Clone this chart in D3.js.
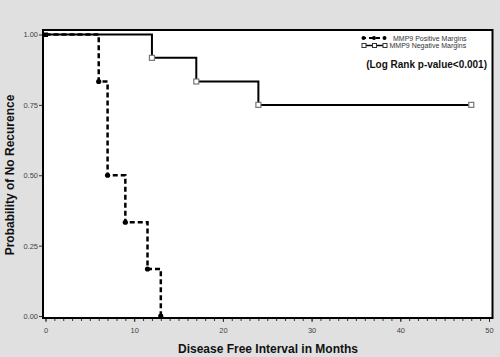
<!DOCTYPE html>
<html><head><meta charset="utf-8">
<script src="https://cdn.jsdelivr.net/npm/d3@7"></script>
<style>
html,body{margin:0;padding:0;background:#e0e0e0;}
svg{display:block;font-family:"Liberation Sans",Arial,sans-serif;}
</style></head>
<body>
<svg id="c" width="500" height="357"></svg>
<script>
const posTimes = [0, 6, 7, 9, 11.5, 13];
const posSurv  = [1, 0.833, 0.5, 0.333, 0.167, 0];
const negTimes = [0, 12, 17, 24, 48];
const negSurv  = [1, 0.917, 0.833, 0.75, 0.75];
const xTicks = [0, 10, 20, 30, 40, 50];
const yTicks = [0, 0.25, 0.5, 0.75, 1];
const legendLabels = ["MMP9 Positive Margins", "MMP9 Negative Margins"];
const pText = "(Log Rank p-value<0.001)";
const xTitle = "Disease Free Interval in Months";
const yTitle = "Probability of No Recurence";

const svg = d3.select("#c");
const x = d3.scaleLinear().domain([0, 50]).range([45.5, 489]);
const y = d3.scaleLinear().domain([0, 1]).range([316, 34.5]);

// plot frame
svg.append("rect").attr("x", 43).attr("y", 30).attr("width", 449.5).attr("height", 288)
  .attr("fill", "#fff").attr("stroke", "#000").attr("stroke-width", 2);

// x axis
const xAxis = svg.append("g").attr("transform", "translate(0,319)");
xAxis.call(d3.axisBottom(x).tickValues(d3.range(0, 51, 1)).tickSize(2).tickFormat(""))
  .call(g => g.select(".domain").remove())
  .selectAll("line").attr("stroke", "#333");
xAxis.append("g").call(d3.axisBottom(x).tickValues(xTicks).tickSize(3).tickFormat(d3.format("d")))
  .call(g => g.select(".domain").remove())
  .call(g => g.selectAll("text").attr("fill", "#444").attr("font-size", 7.5).attr("dy", "1.1em"))
  .selectAll("line").attr("stroke", "#333");

// y axis
svg.append("g").attr("transform", "translate(42,0)")
  .call(d3.axisLeft(y).tickValues(yTicks).tickSize(3).tickFormat(d3.format(".2f")))
  .call(g => g.select(".domain").remove())
  .call(g => g.selectAll("text").attr("fill", "#444").attr("font-size", 7.5).attr("x", -4))
  .selectAll("line").attr("stroke", "#333");

// series
const posData = posTimes.map((t, i) => [t, posSurv[i]]);
const negData = negTimes.map((t, i) => [t, negSurv[i]]);
const line = d3.line().x(d => x(d[0])).y(d => y(d[1])).curve(d3.curveStepAfter);

svg.append("path").datum(negData).attr("d", line).attr("fill", "none")
  .attr("stroke", "#000").attr("stroke-width", 2);
svg.append("path").datum(posData).attr("d", line).attr("fill", "none")
  .attr("stroke", "#000").attr("stroke-width", 2.5).attr("stroke-dasharray", "5,3");

svg.selectAll(".negm").data(negData.slice(1)).enter().append("rect")
  .attr("x", d => x(d[0]) - 2.5).attr("y", d => y(d[1]) - 2.5)
  .attr("width", 5).attr("height", 5).attr("fill", "#fff")
  .attr("stroke", "#777").attr("stroke-width", 1.2);
svg.selectAll(".posm").data(posData.slice(1)).enter().append("circle")
  .attr("cx", d => x(d[0])).attr("cy", d => y(d[1])).attr("r", 2.6).attr("fill", "#000");
svg.append("rect").attr("x", x(0) - 2).attr("y", y(1) - 2).attr("width", 4.5).attr("height", 4.5).attr("fill", "#000");

// legend
const lg = svg.append("g");
lg.append("line").attr("x1", 362).attr("x2", 386).attr("y1", 38).attr("y2", 38)
  .attr("stroke", "#000").attr("stroke-width", 2).attr("stroke-dasharray", "4,3");
[363.5, 374, 384.5].forEach(cx => lg.append("circle").attr("cx", cx).attr("cy", 38).attr("r", 2).attr("fill", "#000"));
lg.append("line").attr("x1", 362).attr("x2", 387).attr("y1", 45.5).attr("y2", 45.5)
  .attr("stroke", "#000").attr("stroke-width", 1.5);
[364, 374.5, 385].forEach(cx => lg.append("rect").attr("x", cx - 2).attr("y", 43.5).attr("width", 4).attr("height", 4)
  .attr("fill", "#fff").attr("stroke", "#333").attr("stroke-width", 1));
lg.append("text").attr("x", 393).attr("y", 40.5).attr("font-size", 7).attr("fill", "#333").text(legendLabels[0]);
lg.append("text").attr("x", 389.5).attr("y", 48).attr("font-size", 7).attr("fill", "#333").text(legendLabels[1]);

svg.append("text").attr("x", 487).attr("y", 68).attr("text-anchor", "end")
  .attr("font-size", 10).attr("font-weight", "bold").attr("fill", "#111").text(pText);

// titles
svg.append("text").attr("x", 268).attr("y", 353).attr("text-anchor", "middle")
  .attr("font-size", 12).attr("font-weight", "bold").attr("fill", "#111").text(xTitle);
svg.append("text").attr("transform", "translate(14,175) rotate(-90)").attr("text-anchor", "middle")
  .attr("font-size", 12).attr("font-weight", "bold").attr("fill", "#111").text(yTitle);
</script>
</body></html>
